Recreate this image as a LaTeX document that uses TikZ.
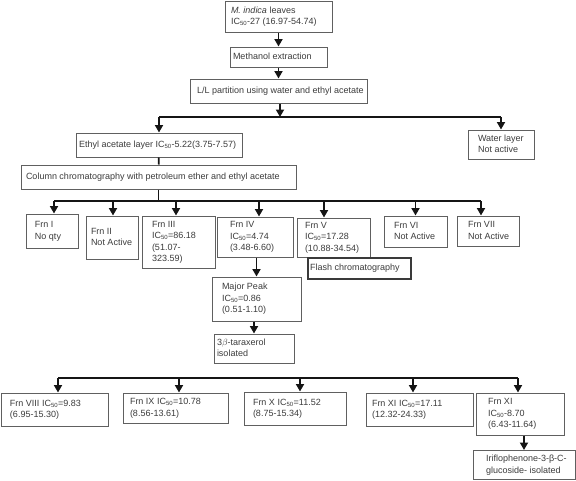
\documentclass[tikz,border=0pt]{standalone}
\usepackage{fontspec}
\setmainfont{Liberation Sans}
\usetikzlibrary{arrows.meta}
\definecolor{txt}{HTML}{3C3C3C}
\definecolor{brd}{HTML}{606060}
\definecolor{dbrd}{HTML}{3A3A3A}
\definecolor{ln}{HTML}{151515}
\newcommand{\ICf}{IC\textsubscript{50}}
\newcommand{\bt}[3]{\makebox[#1pt][l]{\hspace*{#2pt}\begin{tabular}{@{}l@{}}#3\end{tabular}}}
\begin{document}
\begin{tikzpicture}[x=1pt,y=-1pt,
  box/.style={draw=brd, line width=1pt, rectangle, text=txt, inner xsep=0pt, inner ysep=1pt,
    font=\fontsize{9}{11.5}\selectfont},
  dbox/.style={box, draw=dbrd, line width=1.1pt},
  conn/.style={draw=ln, line width=1.8pt},
  arr/.style={conn, -{Triangle[width=8pt,length=7.5pt]}}]
\useasboundingbox[fill=white] (0,0) rectangle (576,480);

% top chain
\node[box, minimum height=31pt] (mi) at (278.5,16.5) {\bt{107}{6}{\textit{M. indica} leaves\\\ICf-27 (16.97-54.74)}};
\node[box, minimum height=20pt] (me) at (278.5,57) {\bt{97}{3}{Methanol extraction}};
\node[box, minimum height=24pt] (ll) at (278.5,91) {\bt{177}{7}{L/L partition using water and ethyl acetate}};
\node[box, minimum height=24pt] (ea) at (159,145) {\bt{166}{3}{Ethyl acetate layer \ICf-5.22(3.75-7.57)}};
\node[box, minimum height=29pt] (wl) at (501,144.5) {\bt{66}{10}{Water layer\\Not active}};
\node[box, minimum height=24pt] (cc) at (158.5,177) {\bt{275}{5}{Column chromatography with petroleum ether and ethyl acetate}};

% fractions row
\node[box, minimum height=34pt] (f1) at (52,231) {\bt{52}{9}{Frn I\\No qty}};
\node[box, minimum height=43pt] (f2) at (112,237.5) {\bt{52}{5}{Frn II\\Not Active}};
\node[box, minimum height=52pt] (f3) at (178.5,242) {\bt{73}{10}{Frn III\\\ICf=86.18\\(51.07-\\323.59)}};
\node[box, minimum height=40pt] (f4) at (255,237) {\bt{76}{13}{Frn IV\\\ICf=4.74\\(3.48-6.60)}};
\node[box, minimum height=39pt] (f5) at (333.5,237.5) {\bt{73}{8}{Frn V\\\ICf=17.28\\(10.88-34.54)}};
\node[dbox, minimum height=21pt] (fl) at (359.5,268.5) {\bt{103}{2}{Flash chromatography}};
\node[box, minimum height=31pt] (f6) at (415.5,231.5) {\bt{63}{10}{Frn VI\\Not Active}};
\node[box, minimum height=30pt] (f7) at (488,231) {\bt{62}{11}{Frn VII\\Not Active}};

\node[box, minimum height=44pt] (mp) at (256.5,299) {\bt{89}{10}{Major Peak\\\ICf=0.86\\(0.51-1.10)}};
\node[box, minimum height=29pt] (tx) at (254,348.5) {\bt{80}{3}{3$\beta$-taraxerol\\isolated}};

% bottom row
\node[box, minimum height=33pt] (f8) at (54.5,409.5) {\bt{107}{9}{Frn VIII \ICf=9.83\\(6.95-15.30)}};
\node[box, minimum height=30pt] (f9) at (175.5,408) {\bt{105}{7}{Frn IX \ICf=10.78\\(8.56-13.61)}};
\node[box, minimum height=33pt] (f10) at (295,408.5) {\bt{102}{9}{Frn X \ICf=11.52\\(8.75-15.34)}};
\node[box, minimum height=33pt] (f11) at (419.5,409.5) {\bt{107}{6}{Frn XI \ICf=17.11\\(12.32-24.33)}};
\node[box, minimum height=42pt] (f12) at (520,414) {\bt{88}{12}{Frn XI\\\ICf-8.70\\(6.43-11.64)}};
\node[box, minimum height=29pt] (ir) at (524,465) {\bt{102}{13}{Iriflophenone-3-β-C-\\glucoside- isolated}};

% connectors
\draw[arr] (mi) -- (me);
\draw[arr] (me) -- (ll);
\coordinate (j1) at (280,117);
\draw[arr] (ll.south -| j1) -- (j1);
\draw[conn] (ea.north |- j1) -- (wl.north |- j1);
\draw[arr] (ea.north |- j1) -- (ea.north);
\draw[arr] (wl.north |- j1) -- (wl.north);
\draw[conn] (ea) -- (cc);
\coordinate (j2) at (158.5,201);
\draw[conn] (cc) -- (j2);
\draw[conn] ([xshift=2pt]f1.north |- j2) -- ([xshift=-7pt]f7.north |- j2);
\draw[arr] ([xshift=2pt]f1.north |- j2) -- ([xshift=2pt]f1.north);
\draw[arr] ([xshift=1pt]f2.north |- j2) -- ([xshift=1pt]f2.north);
\draw[arr] ([xshift=-2.5pt]f3.north |- j2) -- ([xshift=-2.5pt]f3.north);
\draw[arr] ([xshift=4pt]f4.north |- j2) -- ([xshift=4pt]f4.north);
\draw[arr] ([xshift=-9.5pt]f5.north |- j2) -- ([xshift=-9.5pt]f5.north);
\draw[arr] (f6.north |- j2) -- (f6.north);
\draw[arr] ([xshift=-7pt]f7.north |- j2) -- ([xshift=-7pt]f7.north);
\draw[arr] (mp.north |- f4.south) -- (mp.north);
\draw[arr] (tx.north |- mp.south) -- (tx.north);
\coordinate (j3) at (58,378);
\draw[conn] ([xshift=3.5pt]f8.north |- j3) -- ([xshift=-2pt]f12.north |- j3);
\draw[arr] ([xshift=3.5pt]f8.north |- j3) -- ([xshift=3.5pt]f8.north);
\draw[arr] ([xshift=3.5pt]f9.north |- j3) -- ([xshift=3.5pt]f9.north);
\draw[arr] ([xshift=5pt]f10.north |- j3) -- ([xshift=5pt]f10.north);
\draw[arr] ([xshift=-6.5pt]f11.north |- j3) -- ([xshift=-6.5pt]f11.north);
\draw[arr] ([xshift=-2pt]f12.north |- j3) -- ([xshift=-2pt]f12.north);
\draw[arr] (ir.north |- f12.south) -- (ir.north);
\end{tikzpicture}
\end{document}
